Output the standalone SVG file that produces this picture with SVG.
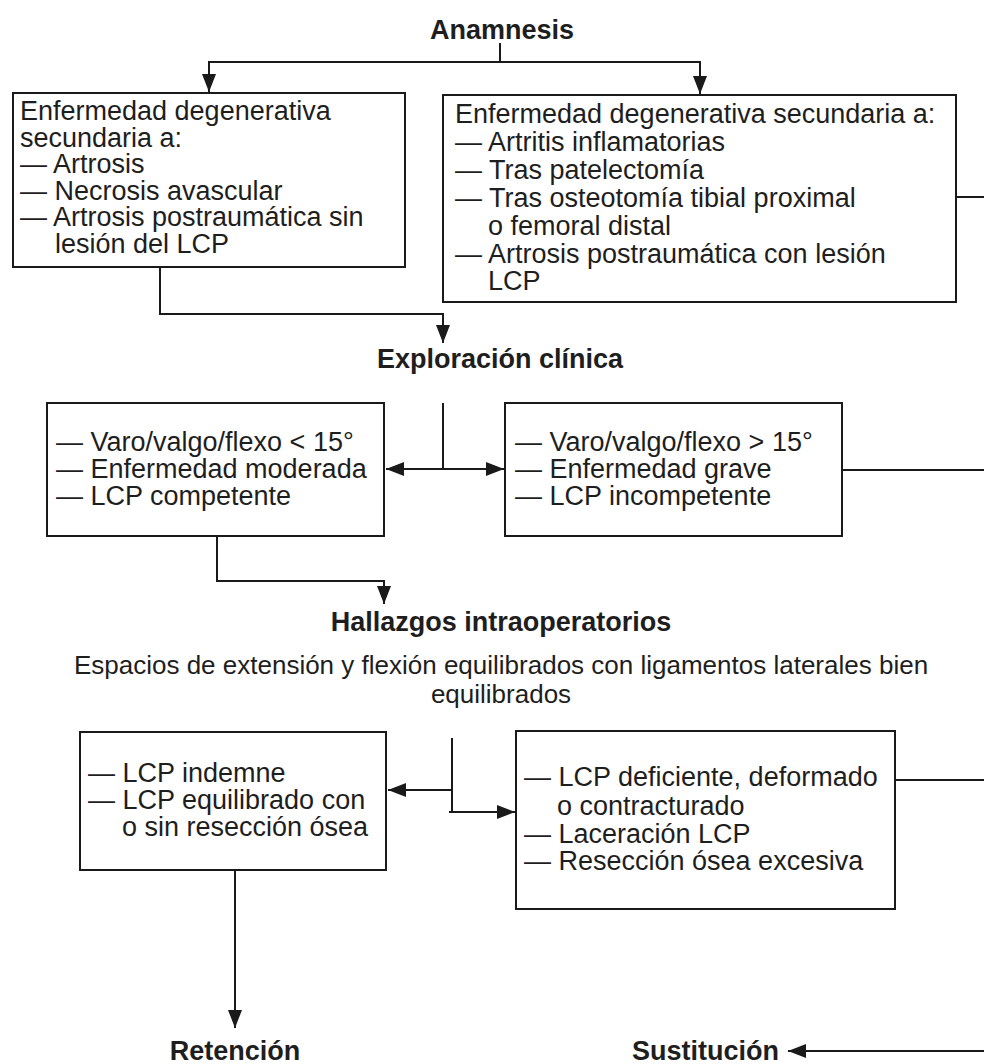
<svg xmlns="http://www.w3.org/2000/svg" width="984" height="1064" viewBox="0 0 984 1064">
<defs>
<style>
.bx{fill:#fff;stroke:#1a1a1a;stroke-width:2}
.t{font-family:"Liberation Sans",Arial,sans-serif;font-size:27px;fill:#1e1e1e}
.s{font-size:26px}
.h{font-family:"Liberation Sans",Arial,sans-serif;font-size:27px;font-weight:bold;fill:#1e1e1e}
.c{fill:none;stroke:#1a1a1a;stroke-width:2}
.a{marker-end:url(#ah)}
</style>
<marker id="ah" markerUnits="userSpaceOnUse" markerWidth="20" markerHeight="16" refX="18" refY="7" orient="auto">
<path d="M0,0 L18,7 L0,14 Z" fill="#1a1a1a"/>
</marker>
</defs>
<rect width="984" height="1064" fill="#fff"/>

<g id="connectors">
<path class="c" d="M500,43 V62"/>
<path class="c a" d="M500,62 H209 V92"/>
<path class="c a" d="M500,62 H700 V94"/>
<path class="c a" d="M160,267 V314 H443 V343"/>
<path class="c" d="M956,197 H984"/>
<path class="c" d="M443,403 V469"/>
<path class="c a" d="M443,469 H386"/>
<path class="c a" d="M443,469 H504"/>
<path class="c" d="M842,470 H984"/>
<path class="c a" d="M217,536 V581 H384 V604"/>
<path class="c" d="M452,738 V812"/>
<path class="c a" d="M452,790 H388"/>
<path class="c a" d="M449,812 H515"/>
<path class="c" d="M895,780 H984"/>
<path class="c a" d="M235,870 V1028"/>
<path class="c a" d="M984,1051 H788"/>
</g>

<g id="anamnesis">
<text class="h" x="502" y="39" text-anchor="middle">Anamnesis</text>
</g>

<g id="box-primaria">
<rect class="bx" x="13" y="93" width="392" height="174"/>
<text class="t" x="20" y="120">Enfermedad degenerativa</text>
<text class="t" x="20" y="147">secundaria a:</text>
<text class="t" x="20" y="173">— Artrosis</text>
<text class="t" x="20" y="200">— Necrosis avascular</text>
<text class="t" x="20" y="226">— Artrosis postraumática sin</text>
<text class="t" x="55" y="253">lesión del LCP</text>
</g>

<g id="box-secundaria">
<rect class="bx" x="443" y="95" width="513" height="207"/>
<text class="t" x="455" y="123">Enfermedad degenerativa secundaria a:</text>
<text class="t" x="455" y="151">— Artritis inflamatorias</text>
<text class="t" x="455" y="179">— Tras patelectomía</text>
<text class="t" x="455" y="207">— Tras osteotomía tibial proximal</text>
<text class="t" x="488" y="235">o femoral distal</text>
<text class="t" x="455" y="263">— Artrosis postraumática con lesión</text>
<text class="t" x="488" y="290">LCP</text>
</g>

<g id="exploracion">
<text class="h" x="500" y="368" text-anchor="middle">Exploración clínica</text>
</g>

<g id="box-leve">
<rect class="bx" x="47" y="403" width="337" height="133"/>
<text class="t" x="56" y="451">— Varo/valgo/flexo &lt; 15°</text>
<text class="t" x="56" y="478">— Enfermedad moderada</text>
<text class="t" x="56" y="505">— LCP competente</text>
</g>

<g id="box-grave">
<rect class="bx" x="505" y="403" width="337" height="133"/>
<text class="t" x="515" y="451">— Varo/valgo/flexo &gt; 15°</text>
<text class="t" x="515" y="478">— Enfermedad grave</text>
<text class="t" x="515" y="505">— LCP incompetente</text>
</g>

<g id="hallazgos">
<text class="h" x="501" y="631" text-anchor="middle">Hallazgos intraoperatorios</text>
<text class="t s" x="501" y="674" text-anchor="middle">Espacios de extensión y flexión equilibrados con ligamentos laterales bien</text>
<text class="t s" x="501" y="703" text-anchor="middle">equilibrados</text>
</g>

<g id="box-indemne">
<rect class="bx" x="80" y="732" width="306" height="138"/>
<text class="t" x="88" y="782">— LCP indemne</text>
<text class="t" x="88" y="809">— LCP equilibrado con</text>
<text class="t" x="122" y="836">o sin resección ósea</text>
</g>

<g id="box-deficiente">
<rect class="bx" x="516" y="731" width="379" height="178"/>
<text class="t" x="524" y="786">— LCP deficiente, deformado</text>
<text class="t" x="557" y="815">o contracturado</text>
<text class="t" x="524" y="843">— Laceración LCP</text>
<text class="t" x="524" y="870">— Resección ósea excesiva</text>
</g>

<g id="retencion">
<text class="h" x="235" y="1060" text-anchor="middle">Retención</text>
</g>

<g id="sustitucion">
<text class="h" x="632" y="1060">Sustitución</text>
</g>
</svg>
